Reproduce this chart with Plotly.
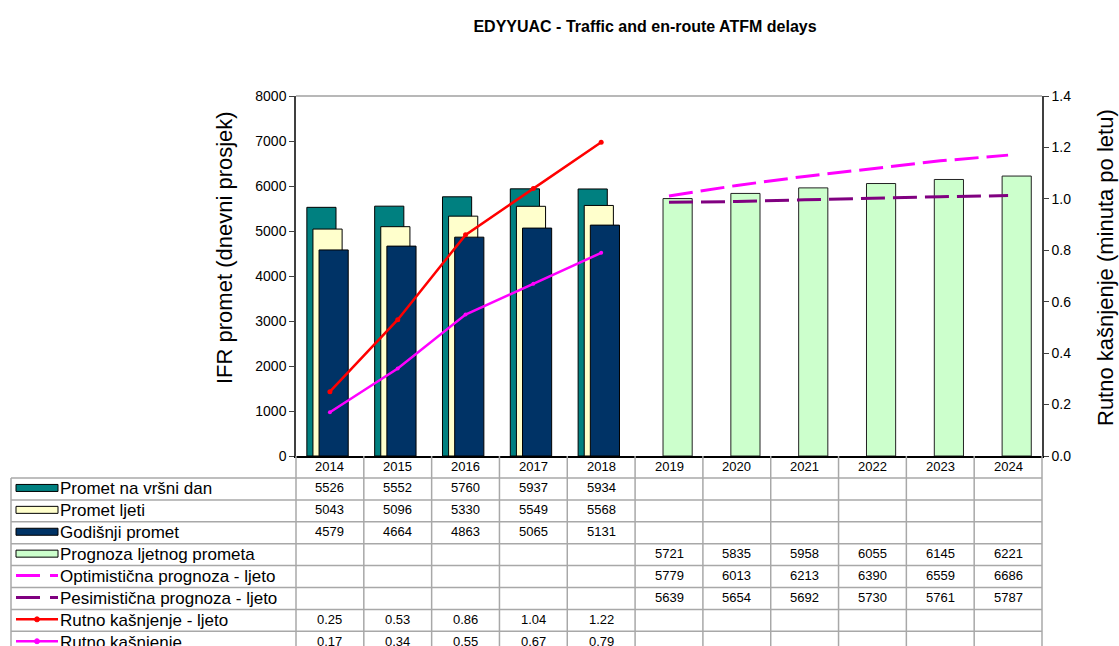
import plotly.graph_objects as go

# ---------------- data ----------------
years = [2014, 2015, 2016, 2017, 2018, 2019, 2020, 2021, 2022, 2023, 2024]
peak_day = [5526, 5552, 5760, 5937, 5934]
summer_traffic = [5043, 5096, 5330, 5549, 5568]
annual_traffic = [4579, 4664, 4863, 5065, 5131]
summer_forecast = [5721, 5835, 5958, 6055, 6145, 6221]
optimistic = [5779, 6013, 6213, 6390, 6559, 6686]
pessimistic = [5639, 5654, 5692, 5730, 5761, 5787]
delay_summer = [0.25, 0.53, 0.86, 1.04, 1.22]
delay_annual = [0.17, 0.34, 0.55, 0.67, 0.79]

labels = ["Promet na vršni dan", "Promet ljeti", "Godišnji promet",
          "Prognoza ljetnog prometa", "Optimistična prognoza - ljeto",
          "Pesimistična prognoza - ljeto", "Rutno kašnjenje - ljeto",
          "Rutno kašnjenje"]

# ---------------- layout constants (pixels) ----------------
W, H = 1119, 646
L, R, T, B = 296, 1042, 96, 456
FONT = "Liberation Sans, Arial, sans-serif"

idx = list(range(len(years)))
hist_x = idx[:5]
fc_x = idx[5:]

def pxx(x):  # pixel x -> paper
    return (x - L) / (R - L)

def pxy(y):  # pixel y -> paper
    return (B - y) / (B - T)

def dx(v):  # data x -> paper
    return (v + 0.5) / len(years)

C_TEAL, C_YEL, C_NAVY, C_GRN = "#008080", "#FFFFCC", "#003366", "#CCFFCC"
C_RED, C_MAG, C_PUR = "#FF0000", "#FF00FF", "#800080"

BW = 0.43
fig = go.Figure()
fig.add_trace(go.Bar(x=hist_x, y=peak_day, width=BW, offset=-0.34, name=labels[0],
                     marker=dict(color=C_TEAL, line=dict(color="#000000", width=1))))
fig.add_trace(go.Bar(x=hist_x, y=summer_traffic, width=BW, offset=-0.25, name=labels[1],
                     marker=dict(color=C_YEL, line=dict(color="#000000", width=1))))
fig.add_trace(go.Bar(x=hist_x, y=annual_traffic, width=BW, offset=-0.16, name=labels[2],
                     marker=dict(color=C_NAVY, line=dict(color="#000000", width=1))))
fig.add_trace(go.Bar(x=fc_x, y=summer_forecast, width=BW, offset=-0.088, name=labels[3],
                     marker=dict(color=C_GRN, line=dict(color="#222222", width=1))))
fig.add_trace(go.Scatter(x=fc_x, y=optimistic, mode="lines", name=labels[4],
                         line=dict(color=C_MAG, width=3, dash="24px,8px")))
fig.add_trace(go.Scatter(x=fc_x, y=pessimistic, mode="lines", name=labels[5],
                         line=dict(color=C_PUR, width=3, dash="24px,8px")))
fig.add_trace(go.Scatter(x=hist_x, y=delay_summer, mode="lines+markers", name=labels[6],
                         yaxis="y2", line=dict(color=C_RED, width=2.5),
                         marker=dict(color=C_RED, size=5)))
fig.add_trace(go.Scatter(x=hist_x, y=delay_annual, mode="lines+markers", name=labels[7],
                         yaxis="y2", line=dict(color=C_MAG, width=2.5),
                         marker=dict(color=C_MAG, size=4)))

shapes = []
annotations = []
GRID = "#a8a8a8"

# top border of plot area
shapes.append(dict(type="line", xref="paper", yref="paper", x0=0, x1=1, y0=1, y1=1,
                   line=dict(color="#a0a0a0", width=1.5)))

# ---------------- data table ----------------
row_top = 478
row_h = 21.9
n_rows = len(labels)
rows_y = [row_top + k * row_h for k in range(n_rows + 1)]
bottom = rows_y[-1] + 4

# vertical lines in data area
for k in range(len(years) + 1):
    xp = dx(k - 0.5)
    shapes.append(dict(type="line", xref="paper", yref="paper", x0=xp, x1=xp,
                       y0=pxy(B), y1=pxy(bottom), line=dict(color=GRID, width=1.5)))
# left border of label column
shapes.append(dict(type="line", xref="paper", yref="paper", x0=pxx(11), x1=pxx(11),
                   y0=pxy(row_top), y1=pxy(bottom), line=dict(color=GRID, width=1.5)))
# horizontal lines
for yv in rows_y:
    shapes.append(dict(type="line", xref="paper", yref="paper", x0=pxx(11), x1=1,
                       y0=pxy(yv), y1=pxy(yv), line=dict(color=GRID, width=1.5)))

# legend keys
key_x0, key_x1 = 16, 58
def row_c(i):
    return rows_y[i] + row_h / 2

bar_keys = [(0, C_TEAL), (1, C_YEL), (2, C_NAVY), (3, C_GRN)]
for i, col in bar_keys:
    yc = row_c(i) - 1
    shapes.append(dict(type="rect", xref="paper", yref="paper",
                       x0=pxx(key_x0), x1=pxx(key_x1), y0=pxy(yc - 3.5), y1=pxy(yc + 3.5),
                       fillcolor=col, line=dict(color="#000000", width=1)))
for i, col in [(4, C_MAG), (5, C_PUR)]:
    yc = row_c(i) - 1
    shapes.append(dict(type="line", xref="paper", yref="paper",
                       x0=pxx(key_x0), x1=pxx(key_x1), y0=pxy(yc), y1=pxy(yc),
                       line=dict(color=col, width=3, dash="24px,10px")))
for i, col in [(6, C_RED), (7, C_MAG)]:
    yc = row_c(i) - 1
    shapes.append(dict(type="line", xref="paper", yref="paper",
                       x0=pxx(key_x0), x1=pxx(key_x1), y0=pxy(yc), y1=pxy(yc),
                       line=dict(color=col, width=2.5)))
    shapes.append(dict(type="circle", xref="paper", yref="paper",
                       x0=pxx(34.5), x1=pxx(39.5), y0=pxy(yc - 2.5), y1=pxy(yc + 2.5),
                       fillcolor=col, line=dict(color=col, width=1)))

for i, lab in enumerate(labels):
    annotations.append(dict(text=lab, xref="paper", yref="paper", x=pxx(58), y=pxy(row_c(i)),
                            xanchor="left", yanchor="middle", showarrow=False,
                            font=dict(family=FONT, size=17, color="#000000")))

# header years
for j, yr in zip(idx, years):
    annotations.append(dict(text=str(yr), xref="x", yref="paper", x=j, y=pxy(467),
                            xanchor="center", yanchor="middle", showarrow=False,
                            font=dict(family=FONT, size=13, color="#000000")))

table_rows = [
    (hist_x, peak_day, "{:d}"),
    (hist_x, summer_traffic, "{:d}"),
    (hist_x, annual_traffic, "{:d}"),
    (fc_x, summer_forecast, "{:d}"),
    (fc_x, optimistic, "{:d}"),
    (fc_x, pessimistic, "{:d}"),
    (hist_x, delay_summer, "{:.2f}"),
    (hist_x, delay_annual, "{:.2f}"),
]
for i, (xs, vals, fmt) in enumerate(table_rows):
    for xv, v in zip(xs, vals):
        annotations.append(dict(text=fmt.format(v), xref="x", yref="paper", x=xv,
                                y=pxy(row_c(i) - 1), xanchor="center", yanchor="middle",
                                showarrow=False,
                                font=dict(family=FONT, size=13, color="#000000")))

# axis titles
annotations.append(dict(text="IFR promet (dnevni prosjek)", xref="paper", yref="paper",
                        x=pxx(224), y=pxy(248), textangle=-90, showarrow=False,
                        xanchor="center", yanchor="middle",
                        font=dict(family=FONT, size=22, color="#000000")))
annotations.append(dict(text="Rutno kašnjenje (minuta po letu)", xref="paper", yref="paper",
                        x=pxx(1105), y=pxy(268), textangle=-90, showarrow=False,
                        xanchor="center", yanchor="middle",
                        font=dict(family=FONT, size=22, color="#000000")))

fig.update_layout(
    width=W, height=H,
    margin=dict(l=L, r=W - R, t=T, b=H - B, pad=0),
    paper_bgcolor="white", plot_bgcolor="white",
    barmode="overlay", showlegend=False,
    title=dict(text="<b>EDYYUAC - Traffic and en-route ATFM delays</b>",
               x=645 / W, xanchor="center", y=1 - 26 / H, yanchor="middle",
               font=dict(family=FONT, size=16, color="#000000")),
    xaxis=dict(range=[-0.5, len(years) - 0.5], showticklabels=False, ticks="",
               showline=True, linecolor="#000000", linewidth=1.5, showgrid=False,
               zeroline=False, fixedrange=True),
    yaxis=dict(range=[0, 8000], dtick=1000, ticks="outside", ticklen=5,
               tickcolor="#404040", showline=True, linecolor="#404040", linewidth=1.5,
               showgrid=False, zeroline=False,
               tickfont=dict(family=FONT, size=14, color="#000000")),
    yaxis2=dict(range=[0, 1.4], dtick=0.2, tickformat=".1f", overlaying="y", side="right",
                ticks="outside", ticklen=5, tickcolor="#404040", showline=True,
                linecolor="#404040", linewidth=1.5, showgrid=False, zeroline=False,
                tickfont=dict(family=FONT, size=14, color="#000000")),
    shapes=shapes,
    annotations=annotations,
)

fig.write_html("out.html", config={"displayModeBar": False},
               post_script="document.body.style.margin='0';document.body.style.overflow='hidden';")
